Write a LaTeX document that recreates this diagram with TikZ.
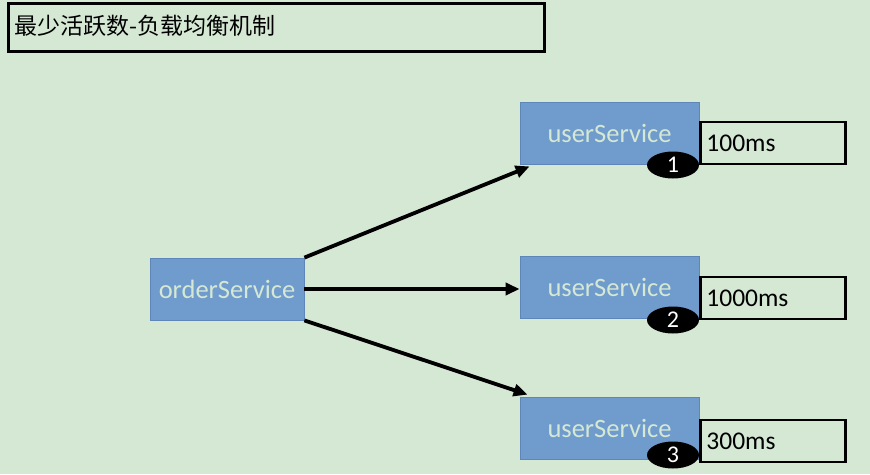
\documentclass[tikz,border=0pt]{standalone}
\usepackage{fontspec}
\setmainfont{Carlito}
\newfontfamily\cjk{Noto Sans CJK SC}
\usetikzlibrary{arrows.meta,shapes.geometric}
\definecolor{bg}{HTML}{D5E8D4}
\definecolor{svc}{HTML}{6F9BCD}
\definecolor{svcline}{HTML}{5F86B8}
\definecolor{svctext}{HTML}{D5E8D4}
\tikzset{
  svcbox/.style={draw=svcline, line width=0.8pt, fill=svc, text=svctext, font=\fontsize{26.5}{28}\selectfont, inner sep=0pt},
  timebox/.style={draw=black, line width=2.8pt, fill=bg, font=\fontsize{25.5}{28}\selectfont, inner sep=0pt, text width=145pt, align=left, anchor=west},
  badge/.style={ellipse, fill=black, text=white, minimum width=52pt, minimum height=27pt, inner sep=0pt, font=\fontsize{24}{26}\selectfont},
  flow/.style={line width=3.8pt, -{Triangle[length=14pt,width=12pt]}, shorten >=0pt}
}
\begin{document}
\begin{tikzpicture}[x=1pt,y=-1pt]
\fill[bg] (0,0) rectangle (870,474);
\useasboundingbox (0,0) rectangle (870,474);
\node[draw=black, line width=3pt, fill=bg, minimum width=536pt, minimum height=48pt, anchor=north west, inner sep=0pt] (title) at (7,2) {};
\node[anchor=west, font=\cjk\fontsize{23}{25}\selectfont, inner sep=0pt] (titletext) at (14,26) {最少活跃数-负载均衡机制};

\node[svcbox, minimum width=154pt, minimum height=62pt] (order) at (227,289) {orderService};

\node[svcbox, minimum width=179pt, minimum height=62pt] (u1) at (609.5,133) {userService};
\node[svcbox, minimum width=179pt, minimum height=62pt] (u2) at (609.5,287) {userService};
\node[svcbox, minimum width=179pt, minimum height=62pt] (u3) at (609.5,428) {userService};

\node[timebox, minimum height=42pt] (t1) at (699,143) {\hspace{6pt}100ms};
\node[timebox, minimum height=42pt] (t2) at (699,298) {\hspace{6pt}1000ms};
\node[timebox, minimum height=42pt] (t3) at (699,441) {\hspace{6pt}300ms};

\node[badge] (b1) at (673,165) {1};
\node[badge] (b2) at (673,320) {2};
\node[badge] (b3) at (673,455) {3};

\draw[flow] (order.north east) -- ([xshift=10pt,yshift=-2pt]u1.south west);
\draw[flow] (order.east) -- (u2.west |- order.east);
\draw[flow] (order.south east) -- ([xshift=8pt,yshift=2pt]u3.north west);
\end{tikzpicture}
\end{document}
